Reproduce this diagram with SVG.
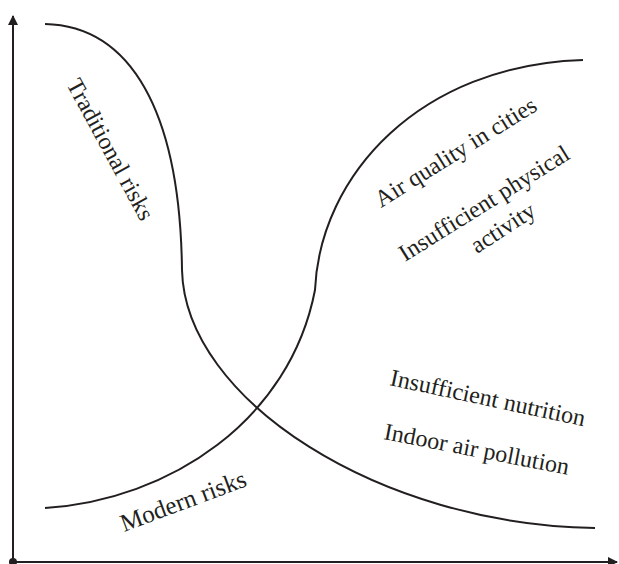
<svg xmlns="http://www.w3.org/2000/svg" width="619" height="564" viewBox="0 0 619 564">
<style>
.ax{stroke:#231f20;stroke-width:2;fill:none}
.cv{stroke:#231f20;stroke-width:2;fill:none}
.t{font-family:"Liberation Serif","Times New Roman",serif;font-size:24px;fill:#231f20}
</style>
<defs>
<marker id="ah" viewBox="0 0 10 10" refX="9" refY="5" markerWidth="5" markerHeight="5" orient="auto"><path d="M0,0 L10,5 L0,10 z" fill="#231f20"/></marker>
</defs>
<rect width="619" height="564" fill="#fff"/>
<g id="connectors">
<path class="ax" d="M13,562 L13,16" marker-end="url(#ah)"/>
<path class="ax" d="M13,562 L617,562" marker-end="url(#ah)"/>
<circle cx="13" cy="562" r="4" fill="#231f20"/>
<path id="traditional-curve" class="cv" d="M45,24 C130,26 180,110 182,270 C185,400 380,525 595,528"/>
<path id="modern-curve" class="cv" d="M45,508 C170,500 290,420 315,290 C320,175 420,65 583,60"/>
</g>
<g id="traditional-risks"><text class="t" transform="translate(66,84) rotate(61.5)">Traditional risks</text></g>
<g id="modern-risks"><text class="t" style="font-size:25px" transform="translate(124,532) rotate(-20.5)">Modern risks</text></g>
<g id="air-quality"><text class="t" transform="translate(381,208) rotate(-32)">Air quality in cities</text></g>
<g id="physical-activity"><text class="t" transform="translate(405,262) rotate(-32)">Insufficient physical</text><text class="t" transform="translate(477,254) rotate(-33)">activity</text></g>
<g id="nutrition"><text class="t" transform="translate(389,385) rotate(12)">Insufficient nutrition</text></g>
<g id="indoor-air"><text class="t" transform="translate(383,439) rotate(11)">Indoor air pollution</text></g>
</svg>
